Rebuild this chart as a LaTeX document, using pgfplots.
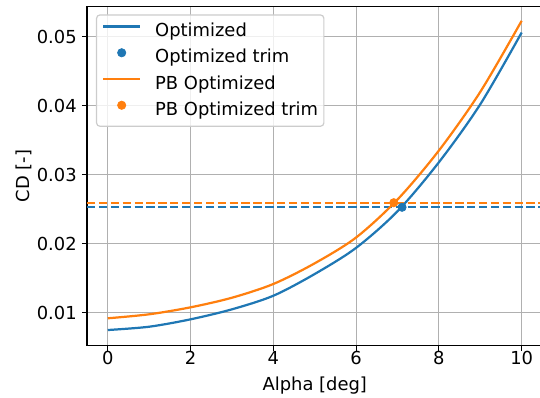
\documentclass[border=0pt]{standalone}
\usepackage{fontspec}
\setmainfont{DejaVu Sans}
\usepackage{pgfplots}
\pgfplotsset{compat=1.18}
\definecolor{mblue}{HTML}{1F77B4}
\definecolor{morange}{HTML}{FF7F0E}
\definecolor{mgrid}{HTML}{B0B0B0}
\newcommand{\fs}{\fontsize{12.9bp}{15bp}\selectfont}
\begin{document}
\begin{tikzpicture}
\begin{axis}[name=ax, scale only axis, width=327.8bp, height=243.8bp,
 xmin=-0.5, xmax=10.5, ymin=0.00528, ymax=0.05435,
 xtick={0,2,4,6,8,10}, ytick={0.01,0.02,0.03,0.04,0.05},
 yticklabels={0.01,0.02,0.03,0.04,0.05},
 scaled y ticks=false,
 xtick pos=bottom, ytick pos=left,
 tick align=outside, major tick length=3.76bp,
 every tick/.style={black, line width=0.86bp},
 axis line style={line width=0.86bp},
 grid=major, grid style={mgrid, line width=0.86bp},
 /pgf/number format/assume math mode=true,
 tick label style={font=\fs},
 xticklabel style={inner sep=0pt, anchor=north, yshift=-0.5bp},
 yticklabel style={inner sep=0pt, anchor=east, xshift=-3.5bp},
 xlabel={Alpha [deg]}, ylabel={CD [-]},
 xlabel style={font=\fs, at={(axis description cs:0.5,-0.1321)}, anchor=base, inner sep=0pt},
 ylabel style={font=\fs, at={(axis description cs:-0.1269,0.5)}, anchor=base, inner sep=0pt},
 legend cell align=left,
 legend style={at={(0.0195,0.9774)}, anchor=north west, draw=black!20, line width=0.86bp, rounded corners=2.5bp, fill=white, fill opacity=0.8, text opacity=1, draw opacity=1, font=\fs, inner xsep=4.1bp, inner ysep=4bp, row sep=3.4bp, column sep=10.1bp, nodes={inner sep=0bp, text height=11.6bp, text depth=3.9bp}},
 legend image code/.code={\draw[#1, opacity=1, line width=1.6bp] (0bp,3.4bp) -- (26.4bp,3.4bp);},
]
\addplot[mblue, line width=1.6bp, smooth] coordinates {
(0,0.00749) (1,0.00797) (2,0.00904) (3,0.01049) (4,0.01246) (5,0.01561) (6,0.0194) (7,0.0247) (8,0.0318) (9,0.0402) (10,0.0506)};
\addlegendentry{Optimized}
\addplot[mblue, only marks, mark=*, mark size=3bp, mark options={line width=0.5bp},
 legend image code/.code={\draw[mblue, fill=mblue, opacity=1, fill opacity=1, line width=0.5bp] (13.2bp,3.4bp) circle (3bp);}] coordinates {(7.11,0.02528)};
\addlegendentry{Optimized trim}
\addplot[mblue, line width=1.6bp, dash pattern=on 5.97bp off 2.58bp, forget plot] coordinates {(-0.5,0.02528) (10.5,0.02528)};
\addplot[morange, line width=1.6bp, smooth] coordinates {
(0,0.00919) (1,0.00977) (2,0.01078) (3,0.01217) (4,0.01416) (5,0.01716) (6,0.0209) (7,0.0264) (8,0.0335) (9,0.0420) (10,0.0523)};
\addlegendentry{PB Optimized}
\addplot[morange, only marks, mark=*, mark size=3bp, mark options={line width=0.5bp},
 legend image code/.code={\draw[morange, fill=morange, opacity=1, fill opacity=1, line width=0.5bp] (13.2bp,3.4bp) circle (3bp);}] coordinates {(6.91,0.02594)};
\addlegendentry{PB Optimized trim}
\addplot[morange, line width=1.6bp, dash pattern=on 5.97bp off 2.58bp, forget plot] coordinates {(-0.5,0.02594) (10.5,0.02594)};
\end{axis}
\pgfresetboundingbox
\path[use as bounding box] ([xshift=-62.7bp,yshift=-37.9bp]ax.south west) rectangle ([xshift=-1.7bp,yshift=4.8bp]ax.north east);
\end{tikzpicture}
\end{document}
